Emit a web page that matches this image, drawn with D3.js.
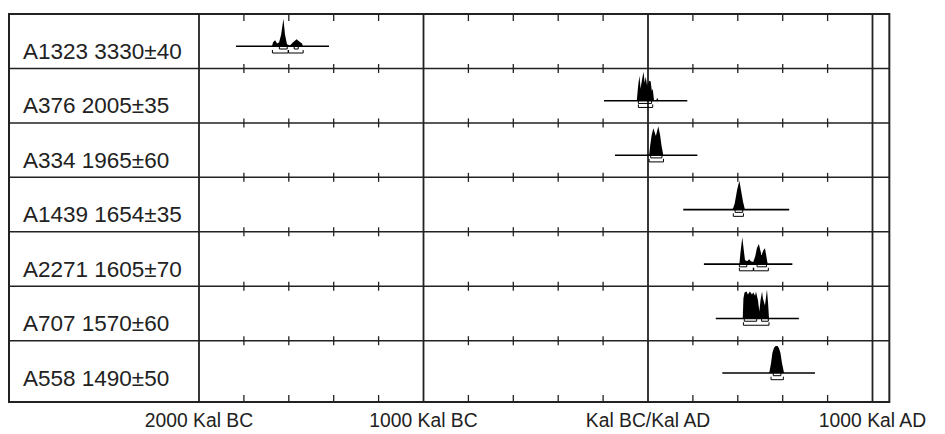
<!DOCTYPE html>
<html>
<head>
<meta charset="utf-8">
<script src="https://cdn.jsdelivr.net/npm/d3@7"></script>
<style>
  body { margin: 0; background: #fff; }
  text { font-family: "Liberation Sans", Arial, sans-serif; fill: #222; }
</style>
</head>
<body>
<svg id="chart" width="945" height="434"></svg>
<script>
// samples, top to bottom
const labels = ["A1323 3330±40", "A376 2005±35", "A334 1965±60", "A1439 1654±35",
  "A2271 1605±70", "A707 1570±60", "A558 1490±50"];

// extent of the horizontal line under each distribution (years, BC negative)
const ranges = [[-1835, -1421], [-196, 175], [-147, 220], [157, 629],
  [249, 643], [302, 672], [331, 744]];

// probability shapes, [year, relative height]
const dist1323 = [[-1675, 0], [-1670, 0.14], [-1661, 0.21], [-1652, 0.1], [-1643, 0.14],
  [-1634, 0.41], [-1624, 0.95], [-1617, 0.41], [-1608, 0.07], [-1595, 0.03],
  [-1581, 0.14], [-1565, 0.24], [-1555, 0.17], [-1541, 0.1], [-1537, 0]];
const dist376 = [[-50, 0], [-44, 0.52], [-38, 0.86], [-33, 0.41], [-29, 0.62], [-20, 1],
  [-15, 0.62], [-10, 0.83], [-4, 0.52], [5, 0.69], [12, 0.66], [17, 0.34], [21, 0.41],
  [27, 0], [36, 0], [41, 0.1], [47, 0]];
const dist334 = [[5, 0], [9, 0.28], [16, 0.69], [24, 0.93], [35, 0.66], [46, 1],
  [54, 0.69], [60, 0.34], [68, 0]];
const dist1439 = [[360, 0], [378, 0.03], [386, 0.2], [397, 0.69], [407, 1], [414, 0.69],
  [423, 0.28], [432, 0]];
const dist2271 = [[407, 0], [412, 0.41], [420, 0.93], [426, 0.52], [432, 0.14], [441, 0.1],
  [451, 0.17], [458, 0.1], [469, 0.07], [478, 0.28], [485, 0.55], [494, 0.69],
  [500, 0.48], [506, 0.31], [514, 0.48], [521, 0.55], [527, 0.28], [533, 0]];
const dist707 = [[422, 0], [425, 0.69], [430, 0.9], [439, 0.93], [445, 0.83], [454, 0.93],
  [463, 0.83], [469, 0.9], [477, 0.79], [481, 0.93], [490, 0.62], [496, 0.24],
  [501, 0.62], [508, 0.93], [512, 0.69], [521, 0.45], [530, 1], [535, 0.52], [539, 0]];
const dist558 = [[540, 0], [548, 0.34], [554, 0.69], [561, 0.86], [568, 0.93], [577, 0.93],
  [583, 0.86], [590, 0.69], [597, 0.34], [606, 0]];
const dists = [dist1323, dist376, dist334, dist1439, dist2271, dist707, dist558];

// 68.2% and 95.4% ranges
const sigma1 = [[[-1642, -1607], [-1576, -1558]], [[-43, 16]], [[12, 62]], [[388, 422]],
  [[407, 440], [486, 528]], [[429, 484], [506, 536]], [[558, 592]]];
const sigma2 = [[[-1673, -1603], [-1601, -1536]], [[-43, 21]], [[5, 69]], [[380, 425]],
  [[407, 469], [471, 536]], [[425, 539]], [[548, 603]]];

const majorYears = [-1000, 0, 1000];
const minorYears = [-1800, -1600, -1400, -1200, -800, -600, -400, -200, 200, 400, 600, 800];
const axisYears = [-2000, -1000, 0, 1000];
const axisLabels = ["2000 Kal BC", "1000 Kal BC", "Kal BC/Kal AD", "1000 Kal AD"];

const frame = { left: 9, top: 14, bottom: 402 };
const rowH = 54.45;
const ink = "#222";

const svg = d3.select("#chart");

const x = d3.scaleLinear().domain([-2000, 1000]).range([199, 872.5]);
const frameRight = x(1075);

const y = d3.scaleBand()
  .domain(labels)
  .range([frame.top, frame.top + rowH * labels.length]);

const h = d3.scaleLinear().domain([0, 1]).range([0, 29]);

// row separators
const rowLines = labels.slice(1).map((d) => y(d));
svg.append("g")
  .selectAll("line")
  .data(rowLines)
  .enter()
  .append("line")
  .attr("x1", frame.left).attr("x2", frameRight)
  .attr("y1", (d) => d).attr("y2", (d) => d)
  .attr("stroke", ink).attr("stroke-width", 1.5);

// minor ticks on every row line
const ticks = svg.append("g").attr("stroke", ink).attr("stroke-width", 1.3);
minorYears.forEach((yr) => {
  ticks.append("line").attr("x1", x(yr)).attr("x2", x(yr))
    .attr("y1", frame.top).attr("y2", frame.top + 7);
  ticks.append("line").attr("x1", x(yr)).attr("x2", x(yr))
    .attr("y1", frame.bottom - 7).attr("y2", frame.bottom);
  rowLines.forEach((ry) => {
    ticks.append("line").attr("x1", x(yr)).attr("x2", x(yr))
      .attr("y1", ry - 4.5).attr("y2", ry + 4.5);
  });
});

// major vertical lines
svg.append("g")
  .selectAll("line")
  .data([-2000].concat(majorYears))
  .enter()
  .append("line")
  .attr("x1", (d) => x(d)).attr("x2", (d) => x(d))
  .attr("y1", frame.top).attr("y2", frame.bottom)
  .attr("stroke", ink).attr("stroke-width", 1.8);

// distributions
const area = d3.area()
  .x((d) => x(d[0]))
  .y0(0)
  .y1((d) => -h(d[1]));

labels.forEach((lab, i) => {
  const base = y(lab) + 32.3;
  const g = svg.append("g").attr("transform", `translate(0,${base})`);

  g.append("path")
    .attr("d", area(dists[i]))
    .attr("fill", "#000");

  g.append("line")
    .attr("x1", x(ranges[i][0])).attr("x2", x(ranges[i][1]))
    .attr("y1", 0).attr("y2", 0)
    .attr("stroke", "#000").attr("stroke-width", 1.6);

  const bracket = (segs, dy) => {
    segs.forEach((s) => {
      g.append("path")
        .attr("d", `M${x(s[0])},${dy - 3}V${dy}H${x(s[1])}V${dy - 3}`)
        .attr("fill", "none")
        .attr("stroke", "#000")
        .attr("stroke-width", 1);
    });
  };
  bracket(sigma1[i], 2.7);
  bracket(sigma2[i], 6.7);

  svg.append("text")
    .attr("x", 23)
    .attr("y", y(lab) + 45)
    .style("font-size", "22.5px")
    .text(lab);
});

// outer frame
svg.append("rect")
  .attr("x", frame.left).attr("y", frame.top)
  .attr("width", frameRight - frame.left).attr("height", frame.bottom - frame.top)
  .attr("fill", "none")
  .attr("stroke", ink).attr("stroke-width", 2);

// axis labels (slightly condensed like the original)
svg.append("g")
  .selectAll("text")
  .data(axisYears)
  .enter()
  .append("text")
  .attr("transform", (d) => `translate(${x(d)},427) scale(0.92,1)`)
  .attr("text-anchor", "middle")
  .style("font-size", "21px")
  .text((d, i) => axisLabels[i]);
</script>
</body>
</html>
